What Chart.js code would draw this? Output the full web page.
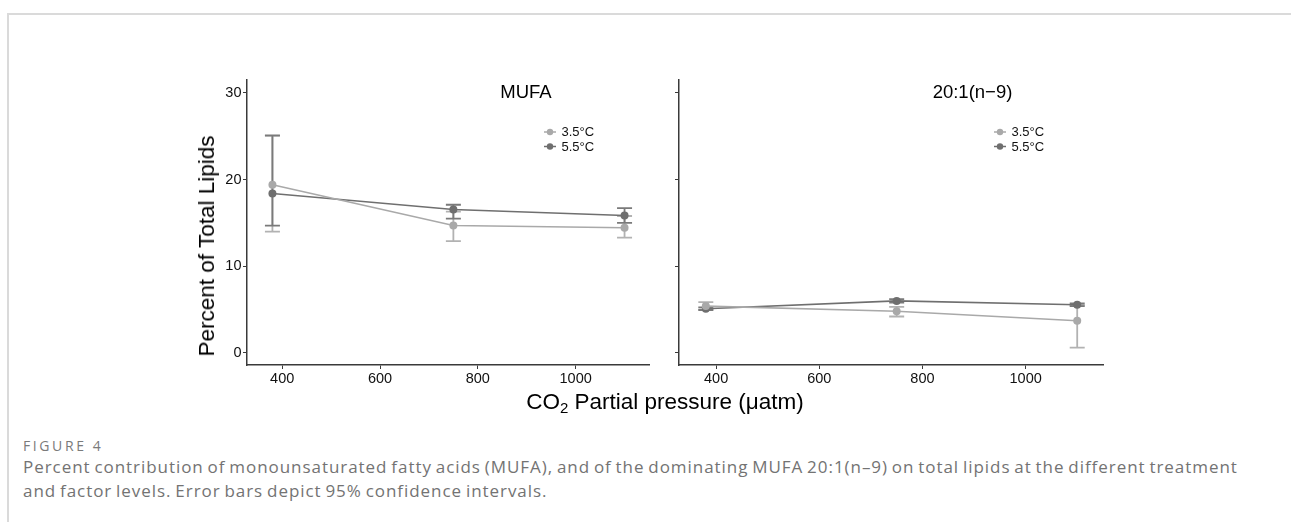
<!DOCTYPE html>
<html>
<head>
<meta charset="utf-8">
<script src="https://cdn.jsdelivr.net/npm/chart.js@4.4.0/dist/chart.umd.min.js"></script>
<style>
  html, body { margin: 0; padding: 0; background: #fff; }
  body { width: 1291px; height: 522px; position: relative; overflow: hidden; font-family: "Liberation Sans", Arial, sans-serif; }
  .frame { position: absolute; left: 7px; top: 13px; right: 0; bottom: 0; border-left: 2px solid #dadada; border-top: 2px solid #dadada; }
  .panel { position: absolute; }
  #left { left: 194px; top: 60px; width: 466px; height: 340px; }
  #right { left: 660px; top: 60px; width: 460px; height: 340px; }
  .ytitle { position: absolute; left: 207px; top: 246px; transform: translate(-50%, -50%) rotate(-90deg); font-size: 22.5px; color: #000; white-space: nowrap; }
  .xtitle { position: absolute; left: 665px; top: 402px; transform: translate(-50%, -50%); font-size: 22.5px; color: #000; white-space: nowrap; }
  .xtitle sub { font-size: 15px; vertical-align: -4px; line-height: 0; }
  .fig { position: absolute; left: 23px; top: 436px; font-family: "Open Sans", sans-serif; font-size: 14px; color: #7a7a7a; letter-spacing: 2.6px; }
  .cap { position: absolute; left: 23px; top: 455px; font-family: "Open Sans", sans-serif; font-size: 17px; line-height: 24px; color: #737373; white-space: nowrap; letter-spacing: 0.95px; word-spacing: -1.5px; }
</style>
</head>
<body>
<div class="frame"></div>
<div class="panel" id="left"><canvas id="chartLeft"></canvas></div>
<div class="panel" id="right"><canvas id="chartRight"></canvas></div>
<div class="ytitle">Percent of Total Lipids</div>
<div class="xtitle">CO<sub>2</sub> Partial pressure (μatm)</div>
<div class="fig">FIGURE 4</div>
<div class="cap">Percent contribution of monounsaturated fatty acids (MUFA), and of the dominating MUFA 20:1(n–9) on total lipids at the different treatment<br>and factor levels. Error bars depict 95% confidence intervals.</div>
<script>
// CO2 levels (µatm)
const co2 = [380, 750, 1100];
const xTicks = [400, 600, 800, 1000];
const yTicks = [0, 10, 20, 30];
const seriesNames = ['3.5°C', '5.5°C'];

// MUFA
const mufa35 = [19.4, 14.7, 14.45];
const mufa35Low = [14.0, 12.9, 13.3];
const mufa35High = [25.05, 16.3, 15.8];
const mufa55 = [18.4, 16.55, 15.85];
const mufa55Low = [14.7, 15.5, 15.0];
const mufa55High = [25.1, 17.1, 16.7];

// 20:1(n-9)
const c20_35 = [5.4, 4.8, 3.7];
const c20_35Low = [5.0, 4.2, 0.6];
const c20_35High = [5.85, 5.3, 5.5];
const c20_55 = [5.1, 6.0, 5.55];
const c20_55Low = [4.95, 5.8, 5.4];
const c20_55High = [5.25, 6.2, 5.7];

const lightGrey = '#a9a9a9';
const darkGrey = '#6f6f6f';
const axisColor = '#3a3a3a';

function pts(ys) {
    return co2.map((x, i) => ({ x: x, y: ys[i] }));
}

const errorBars = {
    id: 'errorBars',
    beforeDatasetsDraw(chart, args, opts) {
        const ctx = chart.ctx;
        const xs = chart.scales.x, ys = chart.scales.y;
        ctx.save();
        opts.bars.forEach(b => {
            ctx.strokeStyle = b.color;
            ctx.lineWidth = 1.8;
            co2.forEach((x, i) => {
                const px = xs.getPixelForValue(x);
                const lo = ys.getPixelForValue(b.low[i]);
                const hi = ys.getPixelForValue(b.high[i]);
                ctx.beginPath();
                ctx.moveTo(px, lo); ctx.lineTo(px, hi);
                ctx.moveTo(px - 7.5, lo); ctx.lineTo(px + 7.5, lo);
                ctx.moveTo(px - 7.5, hi); ctx.lineTo(px + 7.5, hi);
                ctx.stroke();
            });
        });
        ctx.restore();
    }
};

const panelDecor = {
    id: 'panelDecor',
    afterDraw(chart, args, opts) {
        const ctx = chart.ctx;
        ctx.save();
        ctx.fillStyle = '#000';
        ctx.font = '18.5px "Liberation Sans", Arial, sans-serif';
        ctx.textAlign = 'center';
        ctx.textBaseline = 'middle';
        ctx.fillText(opts.title, opts.titleX, opts.titleY);
        // legend
        ctx.font = '13px "Liberation Sans", Arial, sans-serif';
        ctx.textAlign = 'left';
        chart.data.datasets.forEach((ds, i) => {
            const y = opts.legendY + i * 14.5;
            ctx.strokeStyle = ds.borderColor;
            ctx.lineWidth = 1.5;
            ctx.beginPath();
            ctx.moveTo(opts.legendX - 6, y); ctx.lineTo(opts.legendX + 6, y);
            ctx.stroke();
            ctx.fillStyle = ds.borderColor;
            ctx.beginPath();
            ctx.arc(opts.legendX, y, 3.2, 0, Math.PI * 2);
            ctx.fill();
            ctx.fillStyle = '#111';
            ctx.fillText(ds.label, opts.legendX + 11.5, y + 0.5);
        });
        ctx.restore();
    }
};

function makeChart(id, s35, s55, bars, decor, yWidth, padRight, showYLabels) {
    return new Chart(document.getElementById(id), {
        type: 'line',
        data: {
            datasets: [
                { label: seriesNames[0], data: pts(s35), borderColor: lightGrey, backgroundColor: lightGrey,
                  borderWidth: 1.6, pointRadius: 4, pointHoverRadius: 4, pointBorderWidth: 0 },
                { label: seriesNames[1], data: pts(s55), borderColor: darkGrey, backgroundColor: darkGrey,
                  borderWidth: 1.6, pointRadius: 4, pointHoverRadius: 4, pointBorderWidth: 0 }
            ]
        },
        options: {
            responsive: true,
            maintainAspectRatio: false,
            animation: false,
            layout: { padding: { top: 20, right: padRight, left: 0, bottom: 0 } },
            plugins: {
                legend: { display: false },
                tooltip: { enabled: false },
                errorBars: { bars: bars },
                panelDecor: decor
            },
            scales: {
                x: {
                    type: 'linear',
                    min: 328, max: 1150,
                    afterBuildTicks: (s) => { s.ticks = xTicks.map(v => ({ value: v })); },
                    afterFit: (s) => { s.height = 35; },
                    grid: { drawOnChartArea: false, drawTicks: true, tickLength: 4, color: axisColor, lineWidth: 1 },
                    border: { display: true, color: axisColor, width: 1.5 },
                    ticks: { color: '#111', font: { family: '"Liberation Sans", Arial, sans-serif', size: 14.5 }, padding: 1, maxRotation: 0,
                             callback: (v) => String(v) }
                },
                y: {
                    min: -1.4, max: 31.5,
                    afterBuildTicks: (s) => { s.ticks = yTicks.map(v => ({ value: v })); },
                    afterFit: (s) => { s.width = yWidth; },
                    grid: { drawOnChartArea: false, drawTicks: true, tickLength: 4, color: axisColor, lineWidth: 1 },
                    border: { display: true, color: axisColor, width: 1.5 },
                    ticks: { display: showYLabels, color: '#111', font: { family: '"Liberation Sans", Arial, sans-serif', size: 14.5 }, padding: 1.5,
                             callback: (v) => String(v) }
                }
            }
        },
        plugins: [errorBars, panelDecor]
    });
}

makeChart('chartLeft', mufa35, mufa55,
    [{ color: '#b2b2b2', low: mufa35Low, high: mufa35High }, { color: '#7a7a7a', low: mufa55Low, high: mufa55High }],
    { title: 'MUFA', titleX: 332, titleY: 33, legendX: 356, legendY: 72 },
    53, 11, true);

makeChart('chartRight', c20_35, c20_55,
    [{ color: '#b2b2b2', low: c20_35Low, high: c20_35High }, { color: '#7a7a7a', low: c20_55Low, high: c20_55High }],
    { title: '20:1(n\u22129)', titleX: 312.5, titleY: 33, legendX: 340, legendY: 72 },
    19, 17, false);
</script>
</body>
</html>
